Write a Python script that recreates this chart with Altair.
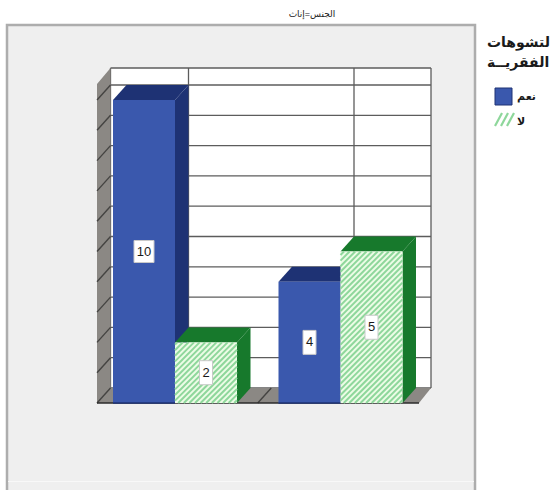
import altair as alt
import pandas as pd

# Counts per group
categories = ["نعم", "لا"]
series_names = ["نعم", "لا"]
series_yes = [10, 4]
series_no = [2, 5]
y_ticks = [0, 2, 4, 6, 8, 10]
chart_title = "الجنس=إناث"
x_title = "سن اليـأس"
y_title = "العـدد"
legend_lines = ["التشوهات", "الفقريــة"]

# Plot frame in pixels and the units-to-pixels factors of both scales
PLOT_W, PLOT_H = 334, 335
PAD_L, PAD_T = 97, 68
PAD_R, PAD_B = 550 - PAD_L - PLOT_W, 490 - PAD_T - PLOT_H
UX, UY = 165.5, 30.3
X_MIN, X_MAX = -78 / UX, 256 / UX
Y_MAX = PLOT_H / UY
DEPTH_X, DEPTH_Y = 13.5 / UX, 15 / UY
BAR_W = 62 / UX
FLOOR_R = X_MAX - 12 / UX
WALL_FRONT_TOP = 319 / UY
HATCH_STEP = 5.6

BLUE_FRONT, BLUE_DARK = "#3a58ad", "#1e3274"
GREEN_BG, GREEN_STRIPE, GREEN_DARK = "#ecfce6", "#8ed79b", "#17792c"
WALL_GREY, WALL_LINE, GRID = "#8b8884", "#454442", "#5c5c5c"
PANEL_FILL, PANEL_EDGE = "#efefef", "#adadad"
LATIN = "Liberation Sans"
ARABIC = "Liberation Sans, DejaVu Sans"

x_scale = alt.Scale(domain=[X_MIN, X_MAX], nice=False, zero=False)
y_scale = alt.Scale(domain=[0, Y_MAX], nice=False, zero=False)
one_row = pd.DataFrame({"k": [0]})


def X(name="x"):
    return alt.X(f"{name}:Q", scale=x_scale, axis=None)


def Y(name="y"):
    return alt.Y(f"{name}:Q", scale=y_scale, axis=None)


def segments(rows, color, width):
    return alt.Chart(pd.DataFrame(rows)).mark_rule(color=color, strokeWidth=width).encode(
        x=X(), x2="x2:Q", y=Y(), y2="y2:Q"
    )


def fixed_text(text, px, py, size, weight="normal", align="left", color="#1a1a1a"):
    return alt.Chart(one_row).mark_text(
        text=text, font=ARABIC, fontSize=size, fontWeight=weight, align=align,
        baseline="middle", color=color,
    ).encode(x=alt.value(px - PAD_L), y=alt.value(py - PAD_T))


def fixed_rect(x0, x1, y0, y1, **style):
    return alt.Chart(one_row).mark_rect(**style).encode(
        x=alt.value(x0 - PAD_L), x2=alt.value(x1 - PAD_L),
        y=alt.value(y0 - PAD_T), y2=alt.value(y1 - PAD_T),
    )


def hatch_rows(x0, width_px, height_px, to_x, to_y):
    # 45-degree stripes clipped to a box, returned in data units
    rows, c = [], -width_px + HATCH_STEP / 2
    while c < height_px:
        a = max(0, -c)
        b = min(width_px, height_px - c)
        rows.append({"x": x0 + to_x(a), "x2": x0 + to_x(b), "y": to_y(a + c), "y2": to_y(b + c)})
        c += HATCH_STEP
    return rows


layers = [fixed_rect(7, 475, 25, 495, fill=PANEL_FILL, stroke=PANEL_EDGE, strokeWidth=2.5)]
layers.append(fixed_rect(8, 474, 481, 482, fill="#f8f8f8"))

# Axes: real ticks and labels, drawn above the panel
axes = alt.Chart(pd.DataFrame({"x": [0, 1], "y": [0, 0]})).mark_point(opacity=0).encode(
    x=alt.X("x:Q", scale=x_scale, title=x_title, axis=alt.Axis(
        values=[0, 1], labelExpr=f"datum.value == 0 ? '{categories[0]}' : '{categories[1]}'",
        grid=False, domain=False, tickColor="#333333", tickSize=8, labelFont=ARABIC, labelFontSize=15,
        labelColor="#1a1a1a", labelPadding=7, titleFont=ARABIC, titleFontSize=18, titleFontWeight="normal",
        titleColor="#1a1a1a", titleX=161, titleY=70, zindex=2)),
    y=alt.Y("y:Q", scale=y_scale, title=y_title, axis=alt.Axis(
        values=y_ticks, format="d", grid=False, domain=False, tickColor="#333333", tickSize=5,
        labelFont=LATIN, labelFontSize=16, labelColor="#1a1a1a", labelPadding=4, titleFont=ARABIC,
        titleFontSize=14, titleFontWeight="bold", titleColor="#1a1a1a", titleX=-50, titleY=175, zindex=2)),
)
layers.append(axes)

# Back wall and its grid
back_left, back_right = X_MIN + DEPTH_X, X_MAX
layers.append(alt.Chart(pd.DataFrame({"x": [back_left], "x2": [back_right], "y": [DEPTH_Y], "y2": [Y_MAX]}))
              .mark_rect(fill="white").encode(x=X(), x2="x2:Q", y=Y(), y2="y2:Q"))
grid_levels = [v + DEPTH_Y for v in range(11)] + [Y_MAX]
layers.append(segments([{"x": back_left, "x2": back_right, "y": v, "y2": v} for v in grid_levels], GRID, 1.3))
grid_cols = [back_left, DEPTH_X, 1 + DEPTH_X, back_right]
layers.append(segments([{"x": c, "x2": c, "y": DEPTH_Y, "y2": Y_MAX} for c in grid_cols], GRID, 1.3))

# Left wall and floor as slanted faces
layers.append(alt.Chart(pd.DataFrame({
    "x": [X_MIN, back_left], "y": [0, DEPTH_Y], "y2": [WALL_FRONT_TOP, Y_MAX]
})).mark_area(orient="vertical", color=WALL_GREY).encode(x=X(), y=Y(), y2="y2:Q"))
layers.append(alt.Chart(pd.DataFrame({
    "y": [0, DEPTH_Y], "x": [X_MIN, back_left], "x2": [FLOOR_R, back_right]
})).mark_area(orient="horizontal", color=WALL_GREY).encode(y=Y(), x=X(), x2="x2:Q"))
layers.append(segments(
    [{"x": X_MIN, "x2": back_left, "y": float(v), "y2": v + DEPTH_Y} for v in range(11)]
    + [{"x": 0.5, "x2": 0.5 + DEPTH_X, "y": 0.0, "y2": DEPTH_Y}], WALL_LINE, 1.4))
layers.append(segments([{"x": X_MIN, "x2": FLOOR_R, "y": 0.0, "y2": 0.0}], "#2b2b2b", 1.5))

# Bars, painted series by series so nearer faces overlap farther ones
for s, (values, x_shift) in enumerate([(series_yes, -BAR_W), (series_no, 0.0)]):
    dark = BLUE_DARK if s == 0 else GREEN_DARK
    for c, v in enumerate(values):
        left = c + x_shift
        right = left + BAR_W
        layers.append(alt.Chart(pd.DataFrame({
            "x": [right, right + DEPTH_X], "y": [0, DEPTH_Y], "y2": [v, v + DEPTH_Y]
        })).mark_area(orient="vertical", color=dark).encode(x=X(), y=Y(), y2="y2:Q"))
        layers.append(alt.Chart(pd.DataFrame({
            "y": [v, v + DEPTH_Y], "x": [left, left + DEPTH_X], "x2": [right, right + DEPTH_X]
        })).mark_area(orient="horizontal", color=dark).encode(y=Y(), x=X(), x2="x2:Q"))
        front = pd.DataFrame({"x": [left], "x2": [right], "y": [0], "y2": [v]})
        if s == 0:
            layers.append(alt.Chart(front).mark_rect(fill=BLUE_FRONT).encode(x=X(), x2="x2:Q", y=Y(), y2="y2:Q"))
            layers.append(segments([{"x": left, "x2": right, "y": 0.0, "y2": 0.0}], BLUE_DARK, 1.5))
        else:
            layers.append(alt.Chart(front).mark_rect(fill=GREEN_BG).encode(x=X(), x2="x2:Q", y=Y(), y2="y2:Q"))
            layers.append(segments(
                hatch_rows(left, BAR_W * UX, v * UY, lambda p: p / UX, lambda p: p / UY), GREEN_STRIPE, 2.0))

# Value labels in small white boxes at each bar's centre
for values, x_shift in [(series_yes, -BAR_W / 2), (series_no, BAR_W / 2)]:
    for c, v in enumerate(values):
        half_w = (10 if v >= 10 else 6.5) / UX
        half_h = (11 if v >= 10 else 12) / UY
        cx, cy = c + x_shift, v / 2
        layers.append(alt.Chart(pd.DataFrame({
            "x": [cx - half_w], "x2": [cx + half_w], "y": [cy - half_h], "y2": [cy + half_h]
        })).mark_rect(fill="white", stroke="#c9c9c9", strokeWidth=1).encode(x=X(), x2="x2:Q", y=Y(), y2="y2:Q"))
        layers.append(alt.Chart(pd.DataFrame({"x": [cx], "y": [cy], "t": [str(v)]})).mark_text(
            font=LATIN, fontSize=13, color="#1a1a1a", baseline="middle", align="center"
        ).encode(x=X(), y=Y(), text="t:N"))

# Hand-built key, since its swatches carry the stripe pattern
layers.append(fixed_text(legend_lines[0], 487, 43, 14, "bold"))
layers.append(fixed_text(legend_lines[1], 487, 63, 14, "bold"))
layers.append(fixed_rect(495, 512, 88, 105, fill=BLUE_FRONT, stroke=BLUE_DARK, strokeWidth=1))
layers.append(fixed_rect(495, 512, 113, 127, fill="white"))
for offset in (0, 6, 12):
    layers.append(alt.Chart(one_row).mark_rule(color=GREEN_STRIPE, strokeWidth=2.2).encode(
        x=alt.value(495 + offset - PAD_L), x2=alt.value(502 + offset - PAD_L),
        y=alt.value(126 - PAD_T), y2=alt.value(113 - PAD_T)))
layers.append(fixed_text(series_names[0], 517, 97, 11, "bold"))
layers.append(fixed_text(series_names[1], 517, 122, 11, "bold"))
layers.append(fixed_text(chart_title, 312, 14, 9, align="center"))

chart = alt.layer(*layers).properties(
    width=PLOT_W,
    height=PLOT_H,
    padding={"left": PAD_L, "top": PAD_T, "right": PAD_R, "bottom": PAD_B},
    autosize=alt.AutoSizeParams(type="none"),
    background="white",
).configure_view(stroke=None)

chart.save("out.html", embed_options={"renderer": "svg", "actions": False})
